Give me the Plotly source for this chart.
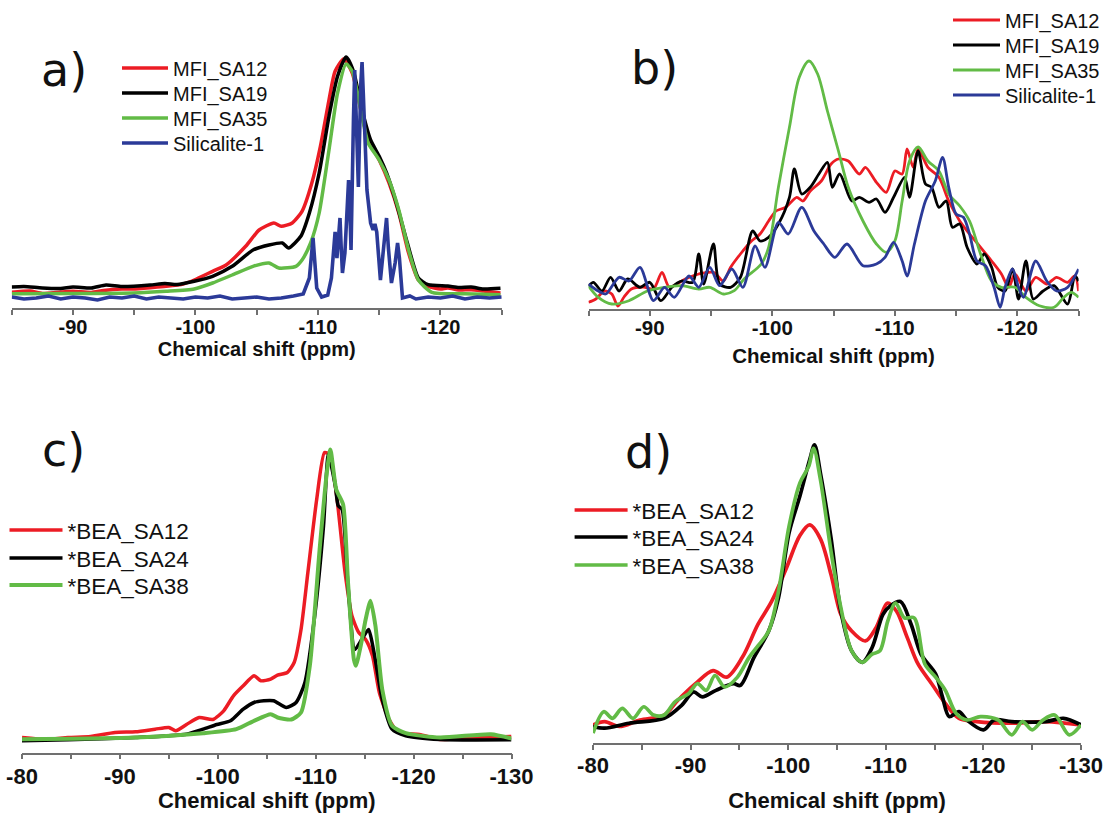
import plotly.graph_objects as go

# ---------------- data (chemical shift in ppm, intensity in a.u.) ----------------
# Panel a
A_SA12_X = [-85.0, -86.5, -87.5, -89.0, -90.0, -91.5, -92.5, -94.0, -94.9, -96.5, -97.6, -99.0, -99.9, -101.4,
            -102.5, -104.1, -105.2, -106.4, -107.0, -107.9, -108.7, -109.5, -110.2, -110.9, -111.4, -112.1,
            -112.8, -113.5, -114.1, -115.0, -115.8, -116.6, -117.4, -118.2, -119.0, -120.0, -120.6, -121.5,
            -122.5, -123.5, -124.9]
A_SA12_Y = [15.7, 17, 14.5, 16, 16.7, 15.5, 17.5, 19, 19, 20.5, 21.7, 24, 28, 36.7, 43, 61.7, 78, 85, 81.7, 85,
            96.7, 125, 161.7, 208, 236.7, 249, 235, 198, 168, 148, 125, 95, 55, 28, 21.7, 19, 20, 18, 18.3, 17,
            15]
A_SA19_X = [-85.0, -86.0, -87.5, -89.0, -90.0, -91.5, -92.7, -94.0, -96.3, -97.5, -98.5, -99.9, -101.4, -103.0,
            -104.7, -106.0, -107.1, -107.6, -108.6, -109.3, -110.1, -110.9, -111.6, -112.3, -112.9, -113.6,
            -114.3, -115.0, -115.6, -116.4, -117.3, -118.2, -119.0, -120.6, -121.5, -122.5, -123.5, -124.9]
A_SA19_Y = [21, 21.5, 20, 19.5, 21, 20, 23, 21.5, 23, 24.5, 23.5, 26.7, 31.7, 41.7, 58, 63, 65, 60, 71.7, 95, 135,
            191.7, 231.7, 251, 236.7, 198, 168, 151.7, 135, 105, 65, 30, 23.3, 22, 20.5, 21, 19, 19.7]
A_SA35_X = [-85.0, -90.0, -94.9, -97.6, -99.9, -101.4, -103.0, -104.7, -106.0, -106.8, -108.2, -108.7, -109.4,
            -110.1, -110.9, -111.6, -112.3, -112.8, -113.5, -114.1, -115.0, -115.8, -116.6, -117.4, -118.2,
            -119.3, -122.0, -124.9]
A_SA35_Y = [14.3, 14.5, 15, 16.7, 19, 25, 33, 41.7, 45, 40, 41.7, 48, 65, 95, 158, 215, 244, 236.7, 198, 165, 148,
            128, 98, 58, 28, 15.7, 14.3, 13.3]
A_SIL_X = [-85, -86, -87, -88, -89, -90, -91, -92, -93, -94, -95, -96, -97, -98, -99, -100, -101, -102, -103, -104,
           -105, -106, -107, -108, -108.8, -109.3, -109.5, -109.6, -109.75, -109.9, -110.3, -110.8, -111.1,
           -111.3, -111.4, -111.55, -111.7, -111.8, -111.9, -112.0, -112.2, -112.4, -112.5, -112.6, -112.7,
           -112.9, -113.0, -113.1, -113.3, -113.5, -113.6, -113.7, -114.0, -114.3, -114.5, -114.65, -114.8,
           -115.1, -115.4, -115.6, -115.75, -116.0, -116.3, -116.5, -116.65, -116.9, -117.5, -118, -119, -120,
           -121, -122, -123, -124, -125]
A_SIL_Y = [11, 9, 10, 12, 9, 11, 10, 8, 11, 10, 12, 9, 11, 10, 9, 11, 10, 12, 9, 10, 11, 9, 10, 12, 14, 30, 62,
           70, 45, 20, 11, 13, 30, 70, 76, 50, 80, 90, 60, 35, 55, 115, 128, 100, 58, 190, 238, 200, 121, 225,
           246, 215, 118, 85, 78, 84, 76, 28, 70, 90, 60, 25, 45, 65, 50, 10, 12, 9, 11, 10, 12, 9, 11, 10, 11]

# Panel b
B_SA12_X = [-85.0, -85.6, -86.3, -86.9, -87.4, -87.9, -88.5, -89.5, -90.3, -91.0, -91.6, -92.9, -94.0, -95.2,
            -96.0, -96.6, -97.4, -98.3, -99.0, -99.7, -100.3, -101.1, -102.0, -102.5, -103.1, -104.0, -104.8,
            -105.4, -106.2, -107.1, -107.6, -108.5, -109.3, -110.0, -110.6, -111.0, -111.5, -111.9, -112.7,
            -113.6, -114.4, -115.3, -116.1, -117.0, -117.9, -118.7, -119.3, -119.8, -120.7, -121.5, -122.4,
            -123.2, -124.1, -124.7, -125.0]
B_SA12_Y = [6.7, 10, 18, 15, 3, 12, 20, 22, 20, 36.7, 22, 30, 35, 36.7, 28, 41.7, 55, 68, 75, 88, 98, 101.7,
            111.7, 108, 118, 128, 145, 150, 148, 135, 141.7, 126.7, 116.7, 138, 135, 160, 141.7, 160, 141.7,
            131.7, 108, 88, 75, 61.7, 48, 35, 21.7, 35, 18, 31.7, 25, 31.7, 26.7, 33, 18]
B_SA19_X = [-85.0, -85.4, -86.1, -86.8, -87.5, -88.2, -89.2, -90.0, -90.9, -91.8, -92.6, -93.5, -94.0, -94.4,
            -95.2, -95.7, -96.6, -97.4, -98.4, -99.0, -99.7, -100.5, -101.4, -101.8, -102.4, -103.1, -103.8,
            -104.5, -104.9, -105.5, -106.5, -107.1, -107.9, -108.5, -109.2, -109.9, -110.8, -111.2, -111.9,
            -112.5, -113.0, -113.6, -114.2, -114.7, -115.3, -115.9, -116.7, -117.3, -117.9, -118.4, -119.0,
            -119.6, -120.1, -120.7, -121.3, -122.1, -123.0, -124.1, -124.7, -125.0]
B_SA19_Y = [23, 26.7, 18, 31.7, 18, 30, 21.7, 26.7, 8.3, 21.7, 28, 26.7, 55, 25, 65, 25, 21.7, 31.7, 78, 68, 71.7,
            85, 111.7, 140, 115, 121.7, 135, 146.7, 121.7, 135, 108, 111.7, 106.7, 110, 96.7, 111.7, 131.7, 111.7,
            158, 125, 121.7, 101.7, 108, 81.7, 85, 61.7, 45, 55, 41.7, 21.7, 18, 40, 10, 48, 10, 18, 23.3, 5, 33,
            28]
B_SA35_X = [-85.0, -85.8, -86.9, -88.3, -89.8, -91.2, -92.6, -94.0, -94.9, -96.0, -96.9, -97.7, -99.1, -99.7,
            -100.5, -101.4, -102.2, -103.0, -103.7, -104.5, -105.4, -106.2, -107.4, -108.5, -109.3, -110.0,
            -110.6, -111.2, -111.9, -112.7, -113.6, -114.4, -115.3, -116.1, -117.0, -117.9, -118.7, -119.8,
            -120.7, -121.8, -123.0, -123.8, -124.4, -125.0]
B_SA35_Y = [23, 11.7, 5, 8.3, 18, 21.7, 23.3, 20, 21.7, 15, 18.3, 30, 45, 61.7, 121.7, 181.7, 231.7, 248, 235, 198,
            158, 121.7, 88, 65, 56.7, 68, 108, 148, 162, 148, 138, 115, 103, 88, 55, 28, 21.7, 21.7, 11.7, 3.3,
            1.7, 11.7, 16.7, 11.7]
B_SIL_X = [-85.0, -85.8, -86.4, -87.5, -88.3, -89.2, -90.3, -91.2, -92.0, -93.2, -94.0, -94.9, -95.7, -96.7,
           -97.6, -98.6, -99.4, -100.5, -101.3, -102.4, -103.4, -104.2, -105.1, -106.1, -107.4, -108.5, -109.2,
           -109.9, -110.6, -111.0, -111.6, -112.5, -113.3, -113.9, -114.4, -115.0, -115.6, -116.1, -116.7,
           -117.4, -118.1, -118.6, -119.0, -119.6, -120.1, -120.5, -121.5, -122.4, -123.2, -124.1, -125.0]
B_SIL_Y = [25, 18, 15, 31.7, 28, 41.7, 8.3, 21.7, 11.7, 33, 21.7, 41.7, 23.3, 40, 21.7, 63, 41.7, 86.7, 75, 101.7,
           78, 65, 51.7, 65, 43.3, 45, 51.7, 66.7, 48, 33, 65, 108, 128, 151.7, 121.7, 95, 91.7, 75, 48, 43.3, 21.7,
           1.7, 21.7, 40, 21.7, 11.7, 48, 28, 18, 21.7, 40]

# Panel c
C_SA12_X = [-80.0, -82.5, -84.7, -87.0, -89.5, -91.6, -93.6, -95.0, -95.7, -96.8, -98.1, -99.5, -100.6, -101.6,
            -102.6, -103.7, -104.4, -105.4, -106.1, -107.1, -107.8, -108.5, -109.2, -110.1, -110.9, -111.4,
            -112.1, -113.0, -113.7, -114.4, -115.1, -115.8, -116.5, -117.5, -118.5, -120.6, -122.7, -126.1,
            -130.0]
C_SA12_Y = [15, 13, 15, 16, 20, 20.7, 23.3, 25, 21.7, 28, 35, 33, 41.7, 56.7, 66.7, 76.7, 71.7, 73.3, 77.3, 80,
            90, 123, 180, 253, 300, 298, 260, 180, 136.7, 120, 113, 96.7, 60, 33, 20, 18, 13, 15, 16]
C_SA24_X = [-80.0, -84.7, -91.6, -96.8, -98.5, -99.9, -101.3, -102.6, -103.7, -104.7, -105.7, -107.0, -108.0,
            -108.9, -109.9, -110.8, -111.3, -112.0, -112.3, -112.7, -113.3, -114.0, -114.7, -115.4, -115.9,
            -116.8, -117.8, -119.2, -122.7, -130.0]
C_SA24_Y = [11.7, 12.7, 15, 18.3, 23.3, 28, 31.7, 43.3, 50, 51.7, 51.7, 45, 50, 70, 136.7, 226.7, 298, 266.7, 246.7,
            243, 166.7, 103, 113, 123, 103, 53, 23.3, 16.7, 13, 12.7]
C_SA38_X = [-80.0, -91.6, -98.5, -101.9, -103.7, -105.4, -106.1, -107.5, -108.5, -109.4, -110.4, -111.1, -111.5,
            -112.1, -112.8, -113.3, -113.9, -114.1, -114.6, -115.1, -115.6, -116.1, -116.8, -117.8, -119.2,
            -122.7, -127.9, -130.0]
C_SA38_Y = [13.3, 15, 19.3, 23.3, 31.7, 38.3, 35, 33, 40, 86.7, 203, 276.7, 303, 263, 248, 170, 93, 86.7, 106.7,
            133, 151.7, 126.7, 63, 26.7, 19.3, 15, 18.3, 14]

# Panel d
D_SA12_X = [-80.0, -81.2, -82.7, -84.8, -87.3, -88.7, -90.5, -92.3, -93.7, -95.3, -96.9, -98.3, -99.8, -101.2,
            -102.2, -103.3, -104.4, -105.4, -106.5, -107.9, -109.0, -110.2, -111.1, -112.2, -113.3, -114.7,
            -116.1, -117.5, -119.3, -122.9, -126.4, -130.0]
D_SA12_Y = [18.3, 21.7, 16.7, 23.3, 28.3, 43.3, 60, 73.3, 66.7, 86.7, 120, 143.3, 176.7, 210, 220.7, 206.7, 170,
            130, 113.3, 103.3, 116.7, 141.7, 133.3, 106.7, 80, 60, 40, 25, 21.7, 20, 21.7, 18.3]
D_SA24_X = [-80.0, -81.2, -83.7, -87.3, -89.1, -90.3, -91.2, -92.6, -94.4, -95.1, -96.5, -98.0, -99.0, -100.1,
            -101.2, -102.2, -102.7, -103.3, -104.4, -105.4, -106.5, -107.6, -108.6, -109.7, -110.4, -111.5,
            -112.6, -113.6, -115.1, -115.8, -116.5, -117.5, -118.3, -120.0, -121.1, -122.9, -126.4, -128.2,
            -130.0]
D_SA24_Y = [16.7, 15, 20, 25, 38.3, 51.7, 46.7, 53.3, 60, 58.3, 86.7, 113.3, 146.7, 213.3, 250, 286.7, 301.7,
            273.3, 206.7, 133.3, 93.3, 81.7, 96.7, 130, 138.3, 143.3, 120, 90, 70, 46.7, 26.7, 31.7, 23.3, 13.3,
            23.3, 21.7, 21.7, 25, 18.3]
D_SA38_X = [-80.0, -81.1, -82.0, -83.0, -84.1, -85.2, -86.2, -87.3, -88.4, -89.8, -90.7, -91.6, -92.5, -93.5,
            -94.8, -96.0, -96.9, -98.0, -99.0, -100.1, -101.2, -102.1, -102.6, -103.3, -104.4, -105.4, -106.5,
            -107.6, -108.6, -109.4, -110.2, -111.0, -111.9, -112.9, -114.0, -115.1, -116.1, -117.2, -118.3,
            -119.7, -121.5, -122.9, -124.0, -125.0, -126.1, -127.3, -128.8, -130.0]
D_SA38_Y = [10, 31.7, 25, 35, 25, 36.7, 28.3, 28.3, 41.7, 50, 60, 53.3, 68.3, 56.7, 66.7, 86.7, 98.3, 113.3,
            153.3, 220, 263.3, 280, 298.3, 266.7, 193.3, 136.7, 93.3, 81.7, 90, 93.3, 123.3, 141.7, 126.7, 126.7,
            80, 66.7, 53.3, 30, 23.3, 26.7, 23.3, 8.3, 21.7, 13.3, 23.3, 28.3, 8.3, 18.3]

MFI_NAMES = ["MFI_SA12", "MFI_SA19", "MFI_SA35", "Silicalite-1"]
BEA_NAMES = ["*BEA_SA12", "*BEA_SA24", "*BEA_SA38"]
PANEL_LABELS = ["a)", "b)", "c)", "d)"]
TICKS_MFI = [-90, -100, -110, -120]
TICKS_MFI_TEXT = ["-90", "-100", "-110", "-120"]
MINOR_MFI = [-85, -95, -105, -115, -125]
TICKS_BEA = [-80, -90, -100, -110, -120, -130]
TICKS_BEA_TEXT = ["-80", "-90", "-100", "-110", "-120", "-130"]
MINOR_BEA = [-85, -95, -105, -115, -125]
X_TITLE = "Chemical shift (ppm)"

RED, BLACK, GREEN, BLUE = "#EC1C24", "#000000", "#62BB46", "#2B3A98"

W, H = 1105, 813


def px_x(p):
    return p / W


def px_y(p):
    return 1 - p / H


fig = go.Figure()

# per-entry legends so the row spacing matches the original figure
LEG_A = dict(x=117, rows=[68, 93, 118, 143], w=46, f=20)
LEG_B = dict(x=948, rows=[20, 45, 70, 95], w=47, f=20)
LEG_C = dict(x=4.5, rows=[530, 558, 585], w=53, f=22.5)
LEG_D = dict(x=569.6, rows=[510, 537, 565], w=53, f=22.5)

legend_layout = {}
leg_counter = [0]


def new_legend(spec, row):
    leg_counter[0] += 1
    key = "legend" if leg_counter[0] == 1 else "legend%d" % leg_counter[0]
    f = spec["f"]
    offset = (1.3 * f + 3) / 2 + 5
    legend_layout[key] = dict(
        x=px_x(spec["x"]), y=px_y(spec["rows"][row] - offset), xanchor="left", yanchor="top",
        bgcolor="rgba(0,0,0,0)", borderwidth=0, itemwidth=spec["w"], visible=True,
        font=dict(family="Liberation Sans, Arial", size=f, color="#111"))
    return key


def add(x, y, name, color, xa, ya, spec, row, width, shape="spline", smooth=0.6):
    key = new_legend(spec, row)
    fig.add_trace(go.Scatter(x=x, y=y, name=name, mode="lines", xaxis=xa, yaxis=ya, legend=key,
                             showlegend=True,
                             line=dict(color=color, width=width, shape=shape, smoothing=smooth)))


add(A_SA12_X, A_SA12_Y, MFI_NAMES[0], RED, "x", "y", LEG_A, 0, 3.5)
add(A_SA19_X, A_SA19_Y, MFI_NAMES[1], BLACK, "x", "y", LEG_A, 1, 3.5)
add(A_SA35_X, A_SA35_Y, MFI_NAMES[2], GREEN, "x", "y", LEG_A, 2, 3.5)
add(A_SIL_X, A_SIL_Y, MFI_NAMES[3], BLUE, "x", "y", LEG_A, 3, 3.6, shape="linear")

add(B_SA12_X, B_SA12_Y, MFI_NAMES[0], RED, "x2", "y2", LEG_B, 0, 2.8, smooth=0.8)
add(B_SA19_X, B_SA19_Y, MFI_NAMES[1], BLACK, "x2", "y2", LEG_B, 1, 2.8, smooth=0.8)
add(B_SA35_X, B_SA35_Y, MFI_NAMES[2], GREEN, "x2", "y2", LEG_B, 2, 2.8, smooth=0.9)
add(B_SIL_X, B_SIL_Y, MFI_NAMES[3], BLUE, "x2", "y2", LEG_B, 3, 2.8, smooth=0.8)

add(C_SA12_X, C_SA12_Y, BEA_NAMES[0], RED, "x3", "y3", LEG_C, 0, 3.5)
add(C_SA24_X, C_SA24_Y, BEA_NAMES[1], BLACK, "x3", "y3", LEG_C, 1, 3.5)
add(C_SA38_X, C_SA38_Y, BEA_NAMES[2], GREEN, "x3", "y3", LEG_C, 2, 4)

add(D_SA12_X, D_SA12_Y, BEA_NAMES[0], RED, "x4", "y4", LEG_D, 0, 3.7, smooth=0.9)
add(D_SA24_X, D_SA24_Y, BEA_NAMES[1], BLACK, "x4", "y4", LEG_D, 1, 3.7, smooth=0.9)
add(D_SA38_X, D_SA38_Y, BEA_NAMES[2], GREEN, "x4", "y4", LEG_D, 2, 3.7, smooth=0.9)

AX_COLOR = "#707070"


def xaxis(dom, rng, tv, tt, minor, anchor, fsize, standoff, lshift):
    return dict(domain=dom, range=rng, anchor=anchor, showgrid=False, zeroline=False,
                showline=True, linecolor=AX_COLOR, linewidth=1.5,
                tickmode="array", tickvals=tv, ticktext=tt, ticks="outside", ticklen=5,
                tickcolor=AX_COLOR, tickwidth=1.5, ticklabelstandoff=lshift,
                minor=dict(tickmode="array", tickvals=minor, ticks="outside", ticklen=5,
                           tickcolor=AX_COLOR, tickwidth=1.5),
                tickfont=dict(family="Liberation Sans, Arial", size=fsize, color="#111", weight="bold"),
                title=dict(text=X_TITLE, standoff=standoff,
                           font=dict(family="Liberation Sans, Arial", size=fsize, color="#111", weight="bold")))


def yaxis(dom, rng, anchor):
    return dict(domain=dom, range=rng, anchor=anchor, visible=False, fixedrange=True)


fig.update_layout(
    width=W, height=H, margin=dict(l=0, r=0, t=0, b=0, autoexpand=False),
    paper_bgcolor="white", plot_bgcolor="rgba(0,0,0,0)", showlegend=True,
    xaxis=xaxis([px_x(11.7), px_x(501.7)], [-85, -125], TICKS_MFI, TICKS_MFI_TEXT, MINOR_MFI, "y", 20, 3, -5),
    yaxis=yaxis([px_y(308), px_y(40)], [0, 268], "x"),
    xaxis2=xaxis([px_x(588.5), px_x(1078.6)], [-85, -125], TICKS_MFI, TICKS_MFI_TEXT, MINOR_MFI, "y2", 20.5, 10, -5),
    yaxis2=yaxis([px_y(309), px_y(40)], [0, 269], "x2"),
    xaxis3=xaxis([px_x(22), px_x(511.5)], [-80, -130], TICKS_BEA, TICKS_BEA_TEXT, MINOR_BEA, "y3", 22, 7, -2),
    yaxis3=yaxis([px_y(752.5), px_y(440)], [0, 312.5], "x3"),
    xaxis4=xaxis([px_x(593), px_x(1081)], [-80, -130], TICKS_BEA, TICKS_BEA_TEXT, MINOR_BEA, "y4", 22, 22, -3),
    yaxis4=yaxis([px_y(743), px_y(440)], [0, 306.7], "x4"),
)
fig.update_layout(**legend_layout)

LABEL_POS = [(64, 70), (654, 68), (63.5, 450), (648.5, 452)]
for lab, (lx, ly) in zip(PANEL_LABELS, LABEL_POS):
    fig.add_annotation(text=lab, x=px_x(lx), y=px_y(ly), xref="paper", yref="paper",
                       xanchor="center", yanchor="middle", showarrow=False,
                       font=dict(family="DejaVu Sans", size=46, color="#111"))

fig.write_html("out.html")
